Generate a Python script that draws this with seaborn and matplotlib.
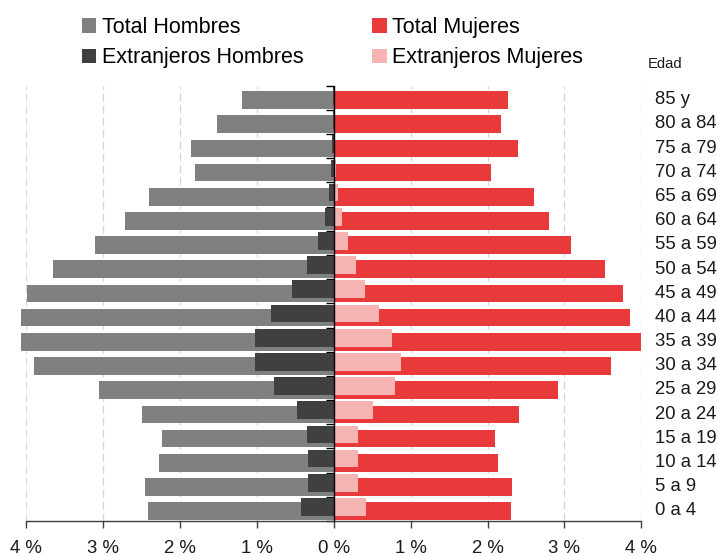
import numpy as np
import pandas as pd
import matplotlib
matplotlib.use("Agg")
import matplotlib.pyplot as plt
import matplotlib.transforms as mtransforms
from matplotlib.patches import Patch
import seaborn as sns

# ---- data (top to bottom) ----
categories = ['85 y', '80 a 84', '75 a 79', '70 a 74', '65 a 69', '60 a 64',
              '55 a 59', '50 a 54', '45 a 49', '40 a 44', '35 a 39', '30 a 34',
              '25 a 29', '20 a 24', '15 a 19', '10 a 14', '5 a 9', '0 a 4']
total_hombres = [1.19, 1.52, 1.86, 1.80, 2.41, 2.71, 3.10, 3.65, 3.99, 4.07,
                 4.07, 3.90, 3.06, 2.50, 2.24, 2.28, 2.45, 2.42]
extranjeros_hombres = [0.005, 0.01, 0.02, 0.03, 0.06, 0.11, 0.21, 0.355, 0.54, 0.82,
                       1.03, 1.02, 0.78, 0.48, 0.355, 0.33, 0.34, 0.43]
total_mujeres = [2.27, 2.17, 2.39, 2.05, 2.61, 2.80, 3.09, 3.53, 3.76, 3.85,
                 3.99, 3.61, 2.91, 2.41, 2.10, 2.13, 2.32, 2.30]
extranjeros_mujeres = [0.005, 0.01, 0.02, 0.035, 0.06, 0.11, 0.19, 0.295, 0.41, 0.59,
                       0.76, 0.88, 0.79, 0.515, 0.31, 0.31, 0.32, 0.42]
x_ticks = [-4, -3, -2, -1, 0, 1, 2, 3, 4]
x_tick_labels = ['4 %', '3 %', '2 %', '1 %', '0 %', '1 %', '2 %', '3 %', '4 %']
legend_labels = ['Total Hombres', 'Extranjeros Hombres', 'Total Mujeres', 'Extranjeros Mujeres']

# ---- styles ----
C_TH = '#808080'
C_EH = '#404040'
C_TM = '#E83A3B'
C_EM = '#F5B3B2'

plt.rcParams['font.family'] = ['Liberation Sans', 'DejaVu Sans']

n = len(categories)
pos = np.arange(n)[::-1].astype(float)  # top category at highest position
off_total = -0.09
off_extr = 0.08
bar_w = 0.73

df = pd.DataFrame({
    'cat': categories,
    'pos': pos,
    'th': -np.array(total_hombres),
    'eh': -np.array(extranjeros_hombres),
    'tm': np.array(total_mujeres),
    'em': np.array(extranjeros_mujeres),
})

fig = plt.figure(figsize=(7.17, 5.56), dpi=100)
W, H = 717, 556
ax = fig.add_axes([26.3 / W, 35 / H, (641.3 - 26.3) / W, (470.3 - 35) / H])

kw = dict(orient='y', native_scale=True, width=bar_w, saturation=1,
          linewidth=0, errorbar=None, ax=ax)
sns.barplot(x=df['th'], y=df['pos'] + off_total, color=C_TH, **kw)
sns.barplot(x=df['tm'], y=df['pos'] + off_total, color=C_TM, **kw)
sns.barplot(x=df['eh'], y=df['pos'] + off_extr, color=C_EH, **kw)
sns.barplot(x=df['em'], y=df['pos'] + off_extr, color=C_EM, **kw)
for p in ax.patches:
    p.set_clip_on(False)

ax.set_xlim(-4, 4)
ax.set_ylim(-0.5, n - 0.5)
ax.set_xlabel('')
ax.set_ylabel('')

ax.set_xticks(x_ticks, x_tick_labels)
ax.tick_params(axis='x', length=5, width=1, color='#404040', pad=9,
               labelsize=13.4, labelcolor='#1a1a1a')

# y axis at zero
ax.spines['left'].set_position(('data', 0))
ax.spines['left'].set_color('black')
ax.spines['left'].set_linewidth(1)
ax.spines['left'].set_zorder(5)
ax.spines['right'].set_visible(False)
ax.spines['top'].set_visible(False)
ax.spines['bottom'].set_color('#404040')
ax.spines['bottom'].set_linewidth(1)
ax.set_yticks(np.arange(-0.5, n, 1.0))
ax.set_yticks(pos, minor=True)
ax.tick_params(axis='y', which='major', length=6, width=1, color='black',
               labelleft=False, direction='out')
ax.tick_params(axis='y', which='minor', length=4, width=1, color='black',
               labelleft=False, direction='out')

# vertical dashed gridlines
ax.grid(axis='x', color='#DAD6C8', linewidth=0.9, linestyle=(0, (6.4, 3.2)))
ax.grid(axis='y', visible=False)
ax.set_axisbelow(True)

# age labels on the right
trans = mtransforms.blended_transform_factory(ax.transAxes, ax.transData)
for c, p in zip(categories, pos):
    ax.text(1.0223, p, c, transform=trans, ha='left', va='center_baseline',
            fontsize=13.3, color='#1a1a1a')

fig.text(648 / W, 1 - 64 / H, 'Edad', ha='left', va='center', fontsize=10.6,
         color='#1a1a1a')

handles = [Patch(facecolor=C_TH), Patch(facecolor=C_EH),
           Patch(facecolor=C_TM), Patch(facecolor=C_EM)]
fig.legend(handles, legend_labels, ncol=2, loc='upper left',
           bbox_to_anchor=(82 / W, 1 - 17 / H), frameon=False, fontsize=15.5,
           handlelength=0.66, handleheight=0.66, handletextpad=0.26,
           columnspacing=3.2, labelspacing=0.44, borderpad=0, borderaxespad=0)

fig.savefig('out.png', dpi=100)
